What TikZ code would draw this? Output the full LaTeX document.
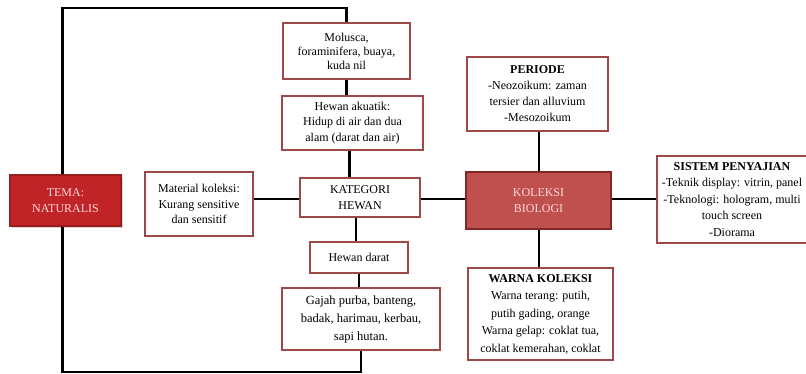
\documentclass[tikz,border=0pt]{standalone}
\usepackage{fontspec}
\setmainfont{Liberation Serif}
\usetikzlibrary{shadows}
\definecolor{boxline}{RGB}{158,72,72}
\definecolor{temared}{RGB}{192,36,38}
\definecolor{koleksired}{RGB}{192,80,77}
\definecolor{koleksiline}{RGB}{128,40,40}

\begin{document}
\begin{tikzpicture}[x=1pt, y=-1pt,
    box/.style={draw=boxline, line width=1.3pt, fill=white, align=center, inner sep=0pt,
        font=\fontsize{12}{15.5}\selectfont},
    redbox/.style={box, fill=#1, text=white!85!red},
    link/.style={line width=2.6pt}]
    \useasboundingbox (0,0) rectangle (806,374);

    % left part
    \node[redbox=temared, draw=temared!80!black, drop shadow={opacity=0.35}, minimum width=111pt, minimum height=51pt] (tema) at (65.5,200.5) {TEMA:\\ NATURALIS};
    \node[box, minimum width=108pt, minimum height=64pt] (material) at (199,204) {Material koleksi:\\ Kurang sensitive\\ dan sensitif};
    \node[box, minimum width=120pt, minimum height=39pt] (kategori) at (360,197.5) {KATEGORI\\ HEWAN};

    % hewan column
    \node[box, font=\fontsize{12}{14}\selectfont, minimum width=127pt, minimum height=56pt] (molusca) at (346.5,51) {Molusca,\\ foraminifera, buaya,\\ kuda nil};
    \node[box, minimum width=141pt, minimum height=54pt] (akuatik) at (352.5,123) {Hewan akuatik:\\ Hidup di air dan dua\\ alam (darat dan air)};
    \node[box, minimum width=98pt, minimum height=31pt] (darat) at (359,257.5) {Hewan darat};
    \node[box, font=\fontsize{12.5}{18}\selectfont, minimum width=158pt, minimum height=62pt] (gajah) at (361,319) {Gajah purba, banteng,\\ badak, harimau, kerbau,\\ sapi hutan.};

    % koleksi column
    \node[redbox=koleksired, draw=koleksiline, minimum width=145pt, minimum height=57pt] (koleksi) at (538.5,200.5) {KOLEKSI\\ BIOLOGI};
    \node[box, font=\fontsize{12}{16}\selectfont, minimum width=141pt, minimum height=74pt] (periode) at (537.5,94) {\textbf{PERIODE}\\ -Neozoikum: zaman\\ tersier dan alluvium\\ -Mesozoikum};
    \node[box, font=\fontsize{12}{17.5}\selectfont, minimum width=145pt, minimum height=92pt] (warna) at (540.5,314) {\textbf{WARNA KOLEKSI}\\ Warna terang: putih,\\ putih gading, orange\\ Warna gelap: coklat tua,\\ coklat kemerahan, coklat};
    \node[box, font=\fontsize{12}{16.5}\selectfont, minimum width=150pt, minimum height=87pt] (sistem) at (732,199.5) {\textbf{SISTEM PENYAJIAN}\\ -Teknik display: vitrin, panel\\ -Teknologi: hologram, multi\\ touch screen\\ -Diorama};

    \coordinate (toprail) at (0,8);
    \coordinate (botrail) at (0,372);
    \coordinate (midrail) at (0,199);
    \coordinate (biocol) at (539,0);

    \draw[link] (material.east |- midrail) to (kategori.west |- midrail);
    \draw[link] (kategori.east |- midrail) to (koleksi.west |- midrail);
    \draw[link] (koleksi.east |- midrail) to (sistem.west |- midrail);
    \draw[link] (periode.south -| biocol) to (koleksi.north -| biocol);
    \draw[link] (koleksi.south -| biocol) to (warna.north -| biocol);
    \draw[link] (molusca.south) to (molusca.south |- akuatik.north);
    \draw[link] ([xshift=-3pt]akuatik.south) to ([xshift=-3pt]akuatik.south |- kategori.north);
    \draw[link] ([xshift=-4pt]kategori.south) to ([xshift=-4pt]kategori.south |- darat.north);
    \draw[link] (darat.south) to (darat.south |- gajah.north);
    \draw[link] ([xshift=-3pt]tema.north) |- (toprail -| molusca.north) to (molusca.north);
    \draw[link] ([xshift=-3pt]tema.south) |- (botrail -| gajah.south) to (gajah.south);
\end{tikzpicture}
\end{document}
